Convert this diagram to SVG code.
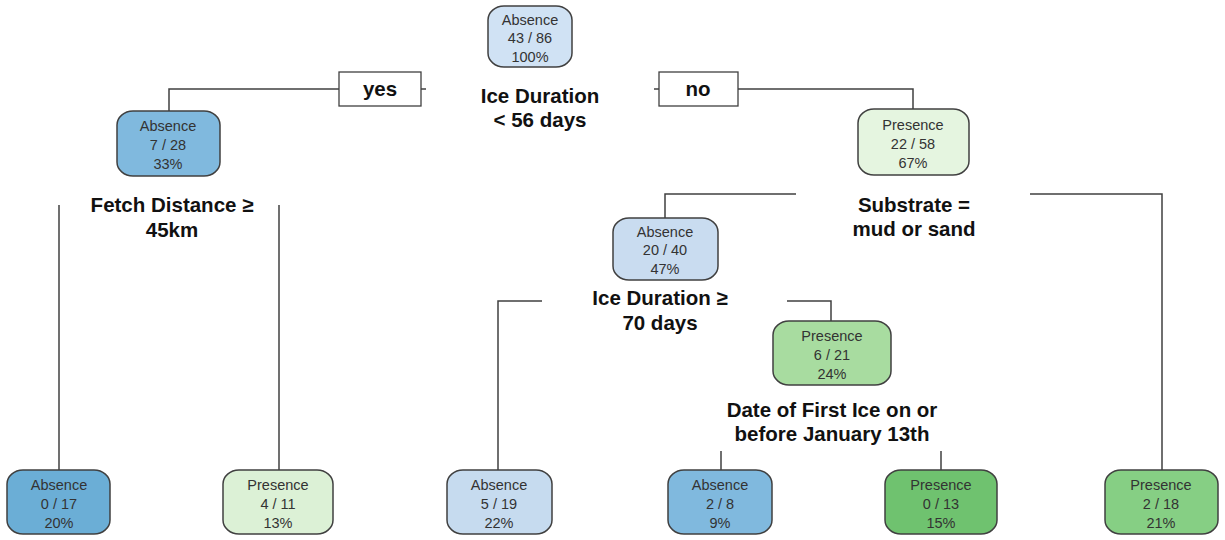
<svg xmlns="http://www.w3.org/2000/svg" width="1225" height="540" viewBox="0 0 1225 540">
<style>
.box{stroke:#404040;stroke-width:1.5}
.nt{font-family:"Liberation Sans",Arial,sans-serif;font-size:14.5px;fill:#333;text-anchor:middle}
.lbl{font-family:"Liberation Sans",Arial,sans-serif;font-size:20.5px;font-weight:bold;fill:#111;text-anchor:middle}
.conn{fill:none;stroke:#404040;stroke-width:1.5}
.yn{fill:#fff;stroke:#404040;stroke-width:1.3}
</style>
<rect width="1225" height="540" fill="#fff"/>
<g id="connectors">
<path class="conn" d="M339 89H169V111"/>
<path class="conn" d="M421 89H426"/>
<path class="conn" d="M654 89H659"/>
<path class="conn" d="M738 89H913V109"/>
<path class="conn" d="M59 205V470"/>
<path class="conn" d="M279 205V470"/>
<path class="conn" d="M796 194H665V218"/>
<path class="conn" d="M1030 194H1162V470"/>
<path class="conn" d="M542 301H498V470"/>
<path class="conn" d="M787 301H831V321"/>
<path class="conn" d="M721 451V470"/>
<path class="conn" d="M941 451V470"/>
</g>
<g id="yes"><rect class="yn" x="339" y="72" width="82" height="34"/><text class="lbl" x="380" y="96">yes</text></g>
<g id="no"><rect class="yn" x="659" y="72" width="79" height="34"/><text class="lbl" x="698" y="96">no</text></g>
<g id="n1"><rect class="box" x="488" y="6" width="84" height="61" rx="16" ry="14" fill="#d0e2f4"/>
<text class="nt" x="530" y="25">Absence</text><text class="nt" x="530" y="43">43 / 86</text><text class="nt" x="530" y="62">100%</text>
<text class="lbl" x="540" y="103">Ice Duration</text><text class="lbl" x="540" y="127">&lt; 56 days</text></g>
<g id="n2"><rect class="box" x="117" y="111" width="103" height="65" rx="16" ry="14" fill="#80b9de"/>
<text class="nt" x="168" y="131">Absence</text><text class="nt" x="168" y="150">7 / 28</text><text class="nt" x="168" y="169">33%</text>
<text class="lbl" x="172" y="212">Fetch Distance ≥</text><text class="lbl" x="172" y="237">45km</text></g>
<g id="n3"><rect class="box" x="858" y="109" width="111" height="66" rx="16" ry="14" fill="#e5f5e0"/>
<text class="nt" x="913" y="130">Presence</text><text class="nt" x="913" y="149">22 / 58</text><text class="nt" x="913" y="168">67%</text>
<text class="lbl" x="914" y="212">Substrate =</text><text class="lbl" x="914" y="236">mud or sand</text></g>
<g id="n4"><rect class="box" x="613" y="218" width="105" height="62" rx="16" ry="14" fill="#c9dcf0"/>
<text class="nt" x="665" y="237">Absence</text><text class="nt" x="665" y="255">20 / 40</text><text class="nt" x="665" y="274">47%</text>
<text class="lbl" x="660" y="305">Ice Duration ≥</text><text class="lbl" x="660" y="330">70 days</text></g>
<g id="n5"><rect class="box" x="773" y="321" width="118" height="64" rx="16" ry="14" fill="#a8dca0"/>
<text class="nt" x="832" y="341">Presence</text><text class="nt" x="832" y="360">6 / 21</text><text class="nt" x="832" y="379">24%</text>
<text class="lbl" x="832" y="417">Date of First Ice on or</text><text class="lbl" x="832" y="441">before January 13th</text></g>
<g id="l1"><rect class="box" x="7" y="470" width="103" height="64" rx="16" ry="14" fill="#6baed6"/>
<text class="nt" x="59" y="490">Absence</text><text class="nt" x="59" y="509">0 / 17</text><text class="nt" x="59" y="528">20%</text></g>
<g id="l2"><rect class="box" x="223" y="470" width="110" height="64" rx="16" ry="14" fill="#dcf1d6"/>
<text class="nt" x="278" y="490">Presence</text><text class="nt" x="278" y="509">4 / 11</text><text class="nt" x="278" y="528">13%</text></g>
<g id="l3"><rect class="box" x="447" y="470" width="105" height="64" rx="16" ry="14" fill="#c6dbef"/>
<text class="nt" x="499" y="490">Absence</text><text class="nt" x="499" y="509">5 / 19</text><text class="nt" x="499" y="528">22%</text></g>
<g id="l4"><rect class="box" x="668" y="470" width="104" height="64" rx="16" ry="14" fill="#80b9de"/>
<text class="nt" x="720" y="490">Absence</text><text class="nt" x="720" y="509">2 / 8</text><text class="nt" x="720" y="528">9%</text></g>
<g id="l5"><rect class="box" x="885" y="470" width="112" height="64" rx="16" ry="14" fill="#6fc26f"/>
<text class="nt" x="941" y="490">Presence</text><text class="nt" x="941" y="509">0 / 13</text><text class="nt" x="941" y="528">15%</text></g>
<g id="l6"><rect class="box" x="1105" y="470" width="113" height="64" rx="16" ry="14" fill="#86cf84"/>
<text class="nt" x="1161" y="490">Presence</text><text class="nt" x="1161" y="509">2 / 18</text><text class="nt" x="1161" y="528">21%</text></g>
</svg>
